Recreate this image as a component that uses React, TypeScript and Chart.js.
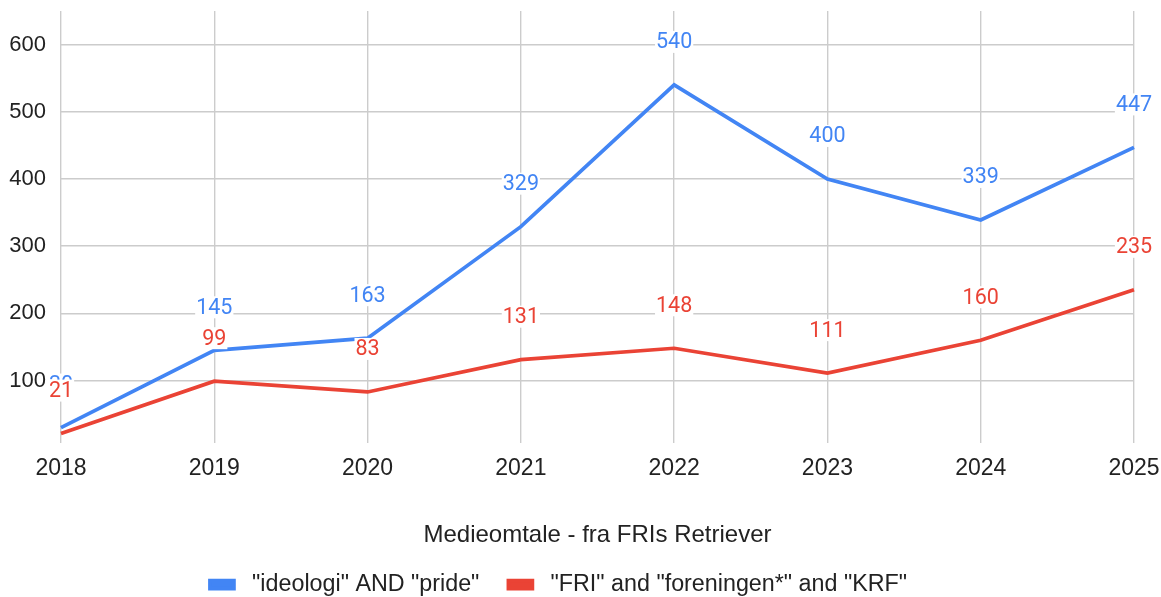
import React, { useEffect, useRef } from "react";
import { Chart, registerables } from "chart.js";

Chart.register(...registerables);

const years = ["2018", "2019", "2020", "2021", "2022", "2023", "2024", "2025"];
const ideologiPride = [30, 145, 163, 329, 540, 400, 339, 447];
const friKrf = [21, 99, 83, 131, 148, 111, 160, 235];
const yTicks = [100, 200, 300, 400, 500, 600];
const seriesNames = ['"ideologi" AND "pride"', '"FRI" and "foreningen*" and "KRF"'];
const xTitle = "Medieomtale - fra FRIs Retriever";

const BLUE = "#4285F4";
const RED = "#EA4335";
const LABEL_FONT = "Roboto, Arial, sans-serif";
const AXIS_FONT = "'Liberation Sans', Arial, sans-serif";

const labelPlugin = {
  id: "pointLabels",
  afterLayout(chart: any) {
    const lg = chart.legend;
    if (lg) {
      const h = lg.bottom - lg.top;
      lg.top = 544;
      lg.bottom = 544 + h;
      lg.left = 0;
      lg.right = 1117;
    }
  },
  afterDatasetsDraw(chart: any) {
    const ctx = chart.ctx;
    ctx.save();
    ctx.font = `21.5px ${LABEL_FONT}`;
    ctx.textAlign = "center";
    ctx.textBaseline = "middle";
    chart.data.datasets.forEach((ds: any, i: number) => {
      const meta = chart.getDatasetMeta(i);
      meta.data.forEach((pt: any, j: number) => {
        const txt = String(ds.data[j]);
        const x = pt.x;
        const y = pt.y - 43;
        const w = ctx.measureText(txt).width;
        ctx.fillStyle = "#ffffff";
        ctx.fillRect(x - w / 2 - 1, y - 11, w + 2, 22);
        ctx.fillStyle = ds.borderColor;
        ctx.fillText(txt, x, y + 1);
      });
    });
    ctx.restore();
  },
};

export default function App() {
  const ref = useRef<HTMLCanvasElement>(null);
  useEffect(() => {
    document.body.style.margin = "0";
    const chart = new Chart(ref.current!, {
      type: "line",
      data: {
        labels: years,
        datasets: [
          {
            label: seriesNames[0],
            data: ideologiPride,
            borderColor: BLUE,
            backgroundColor: BLUE,
            borderWidth: 3.7,
            pointRadius: 0,
            tension: 0,
          },
          {
            label: seriesNames[1],
            data: friKrf,
            borderColor: RED,
            backgroundColor: RED,
            borderWidth: 3.7,
            pointRadius: 0,
            tension: 0,
          },
        ],
      },
      options: {
        animation: false,
        responsive: false,
        layout: { padding: { left: 0, right: 0, top: 11, bottom: 0 } },
        plugins: {
          legend: {
            position: "bottom",
            maxHeight: 55,
            labels: {
              boxWidth: 24,
              boxHeight: 8,
              padding: 29,
              color: "#222",
              font: { family: AXIS_FONT, size: 23.3 },
              generateLabels: (c: any) =>
                (Chart.defaults.plugins.legend.labels.generateLabels as any)(c).map((it: any) => ({
                  ...it,
                  text: " " + it.text,
                })),
            },
          },
          tooltip: { enabled: false },
        },
        scales: {
          x: {
            grid: { color: "#cccccc", lineWidth: 1.4, drawTicks: false },
            border: { display: false },
            ticks: { color: "#222", font: { family: AXIS_FONT, size: 23 }, padding: 12, maxRotation: 0 },
            title: {
              display: true,
              text: xTitle,
              color: "#222",
              font: { family: AXIS_FONT, size: 24, lineHeight: 1 },
              padding: { top: 30, bottom: -5 },
            },
            afterFit: (axis: any) => {
              axis.height = 99;
              axis.paddingLeft = 0;
              axis.paddingRight = 27;
            },
          },
          y: {
            min: 7,
            max: 650,
            grid: { color: "#cccccc", lineWidth: 1.4, drawTicks: false },
            border: { display: false },
            afterBuildTicks: (axis: any) => {
              axis.ticks = yTicks.map((v) => ({ value: v }));
            },
            afterFit: (axis: any) => {
              axis.width = 61;
              axis.paddingTop = 0;
              axis.paddingBottom = 0;
            },
            ticks: { color: "#222", font: { family: AXIS_FONT, size: 22 }, padding: 15 },
          },
        },
      },
      plugins: [labelPlugin],
    });
    return () => chart.destroy();
  }, []);
  return (
    <div style={{ position: "absolute", left: 0, top: 0, width: 1161, height: 597 }}>
      <canvas ref={ref} width={1161} height={597} />
    </div>
  );
}
